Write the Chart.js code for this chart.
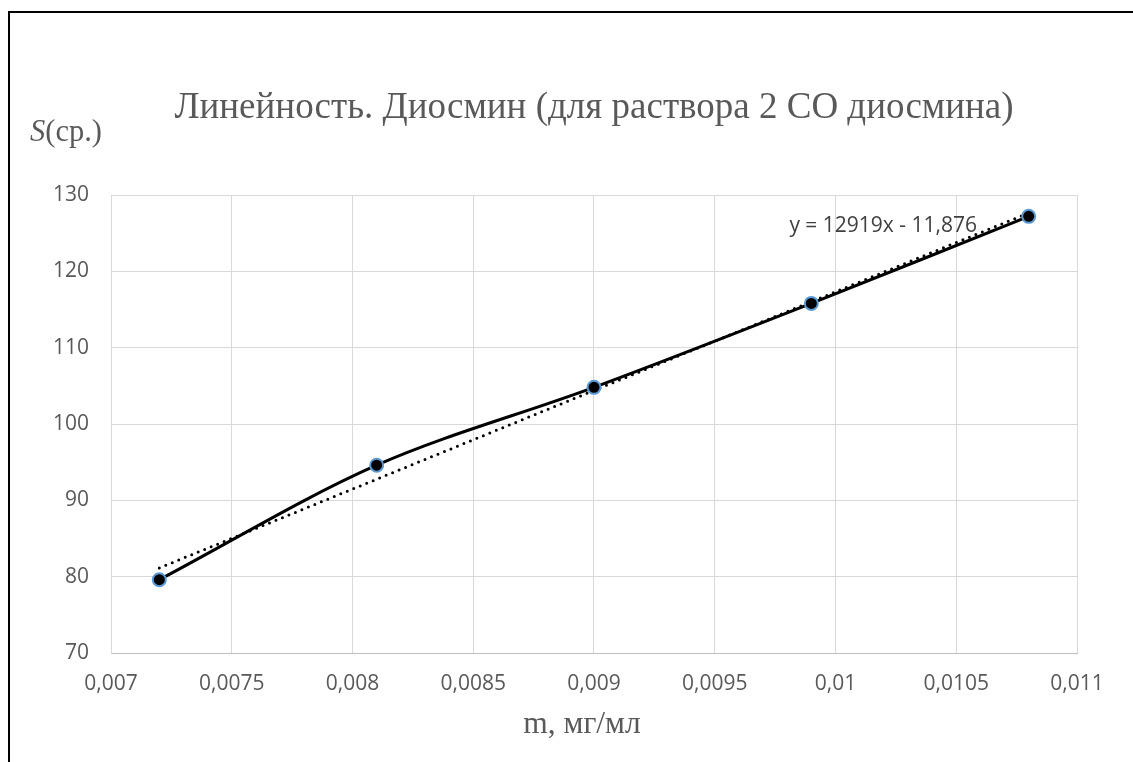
<!DOCTYPE html>
<html lang="ru">
<head>
  <meta charset="UTF-8">
  <title>Линейность. Диосмин</title>
  <script src="https://cdn.jsdelivr.net/npm/chart.js"></script>
  <style>
    html, body { margin: 0; padding: 0; background: #fff; overflow: hidden; }
    .frame {
      position: absolute; left: 8px; top: 11px;
      width: 1160px; height: 800px;
      border: 2px solid #000;
    }
    .wrap { position: absolute; left: 0; top: 0; width: 1133px; height: 762px; }
  </style>
</head>
<body>
<div class="frame"></div>
<div class="wrap"><canvas id="grafik" width="1133" height="762"></canvas></div>

<script>
  // данные
  const massa = [0.0072, 0.0081, 0.009, 0.0099, 0.0108];       // m, мг/мл
  const ploshad = [79.6, 94.6, 104.8, 115.8, 127.2];          // S (ср.)
  const yDiapazon = [70, 130];
  const xDiapazon = [0.007, 0.011];
  const trendK = 12919;
  const trendB = -11.876;

  const judul = 'Линейность. Диосмин (для раствора 2 СО диосмина)';
  const osX = 'm, мг/мл';
  const uravnenie = 'y = 12919x - 11,876';

  const tochki = massa.map((m, i) => ({ x: m, y: ploshad[i] }));
  const trend = [massa[0], massa[massa.length - 1]].map(m => ({ x: m, y: trendK * m + trendB }));

  const tekstPlugin = {
    id: 'tekst',
    afterDraw(chart) {
      const ctx = chart.ctx;
      const a = chart.chartArea;
      ctx.save();
      ctx.fillStyle = '#595959';
      ctx.textBaseline = 'alphabetic';

      // заголовок
      ctx.font = '37px "Liberation Serif"';
      ctx.textAlign = 'center';
      ctx.fillText(judul, (a.left + a.right) / 2, 118);

      // подпись оси X
      ctx.font = '31.5px "Liberation Serif"';
      ctx.fillText(osX, (a.left + a.right) / 2 - 12, 733);

      // S(ср.)
      ctx.textAlign = 'left';
      ctx.font = 'italic 30.5px "Liberation Serif"';
      ctx.fillText('S', 30, 141);
      const w = ctx.measureText('S').width;
      ctx.font = '30.5px "Liberation Serif"';
      ctx.fillText('(ср.)', 30 + w, 141);

      // уравнение тренда
      ctx.font = '21px "Open Sans"';
      ctx.fillStyle = '#404040';
      ctx.textAlign = 'right';
      ctx.fillText(uravnenie, a.right - 100, 232);
      ctx.restore();
    }
  };

  const fmt = v => parseFloat(v.toFixed(5)).toString().replace('.', ',');

  new Chart(document.getElementById('grafik').getContext('2d'), {
    type: 'line',
    data: {
      datasets: [
        {
          label: 'S',
          data: tochki,
          borderColor: '#000',
          borderWidth: 3,
          tension: 0.33,
          pointRadius: 6.5,
          pointBackgroundColor: '#000',
          pointBorderColor: '#5B9BD5',
          pointBorderWidth: 2,
          order: 0
        },
        {
          label: 'trend',
          data: trend,
          borderColor: '#000',
          borderWidth: 3,
          borderDash: [0, 7],
          borderCapStyle: 'round',
          pointRadius: 0,
          order: 1
        }
      ]
    },
    options: {
      responsive: false,
      animation: false,
      layout: { padding: { top: 195, left: 0, right: 56, bottom: 21 } },
      plugins: {
        legend: { display: false },
        title: { display: false },
        tooltip: { enabled: false }
      },
      scales: {
        x: {
          type: 'linear',
          min: xDiapazon[0],
          max: xDiapazon[1],
          afterFit: s => { s.height = 88; },
          grid: { color: '#d9d9d9', drawTicks: false },
          border: { color: '#bfbfbf' },
          ticks: {
            stepSize: 0.0005,
            padding: 18,
            maxRotation: 0,
            autoSkip: false,
            color: '#595959',
            font: { family: 'Open Sans', size: 21 },
            callback: v => fmt(v)
          }
        },
        y: {
          min: yDiapazon[0],
          max: yDiapazon[1],
          afterFit: s => { s.width = 111; },
          grid: { color: '#d9d9d9', drawTicks: false },
          border: { color: '#d9d9d9' },
          ticks: {
            stepSize: 10,
            padding: 22,
            color: '#595959',
            font: { family: 'Open Sans', size: 21 }
          }
        }
      }
    },
    plugins: [tekstPlugin]
  });
</script>
</body>
</html>
